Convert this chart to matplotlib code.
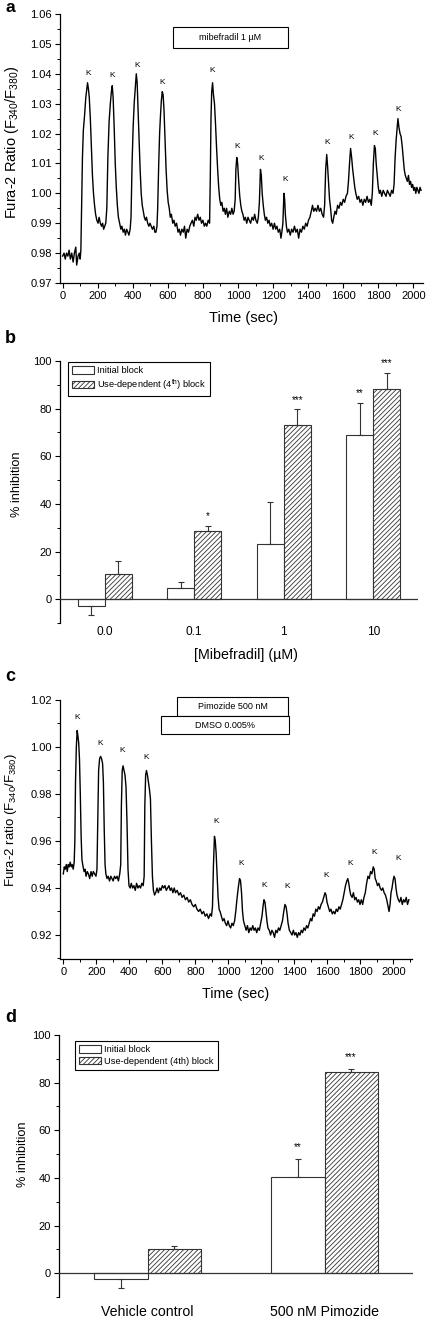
import numpy as np
import matplotlib
matplotlib.use('Agg')
import matplotlib.pyplot as plt
from matplotlib.patches import Rectangle, Patch
from matplotlib.ticker import MultipleLocator, FormatStrFormatter

plt.rcParams['font.family'] = ['Liberation Sans', 'DejaVu Sans']
plt.rcParams['mathtext.default'] = 'regular'
plt.rcParams['hatch.linewidth'] = 0.6

# ---------------------------------------------------------------------------
# Data
# ---------------------------------------------------------------------------

# panel a: Fura-2 ratio trace, mibefradil 1 uM (time s, ratio)
trace_a = [
    (0, 0.979), (8, 0.980), (15, 0.978), (22, 0.980), (30, 0.979), (37, 0.981),
    (44, 0.978), (52, 0.980), (60, 0.977), (67, 0.980), (75, 0.982), (80, 0.976),
    (88, 0.979), (95, 0.980), (100, 0.978), (104, 0.981),
    (108, 0.995), (113, 1.012), (118, 1.021), (125, 1.026), (132, 1.032), (138, 1.035),
    (142, 1.037), (147, 1.035), (152, 1.032), (158, 1.025), (164, 1.015), (170, 1.006),
    (176, 1.000), (182, 0.996), (188, 0.993), (195, 0.991), (202, 0.990), (208, 0.992),
    (215, 0.990), (222, 0.989), (228, 0.990), (234, 0.988), (240, 0.989), (246, 0.990),
    (252, 0.995),
    (258, 1.012), (265, 1.024), (272, 1.030), (278, 1.034), (283, 1.036), (288, 1.032),
    (294, 1.022), (300, 1.010), (306, 1.002), (312, 0.996), (318, 0.992), (325, 0.990),
    (332, 0.988), (338, 0.989), (345, 0.987), (352, 0.988), (358, 0.986), (365, 0.988),
    (372, 0.987), (378, 0.986), (385, 0.988), (390, 0.992),
    (396, 1.010), (402, 1.022), (408, 1.030), (414, 1.035), (420, 1.040), (425, 1.037),
    (430, 1.028), (436, 1.018), (442, 1.008), (448, 1.000), (454, 0.996), (460, 0.994),
    (466, 0.992), (472, 0.991), (478, 0.992), (485, 0.990), (492, 0.989), (498, 0.990),
    (505, 0.989), (512, 0.988), (520, 0.989), (526, 0.987), (532, 0.987), (538, 0.989),
    (542, 0.995),
    (548, 1.010), (553, 1.020), (558, 1.026), (563, 1.031), (568, 1.034), (573, 1.033),
    (578, 1.028), (584, 1.018), (590, 1.008), (596, 1.001), (602, 0.997), (608, 0.995),
    (614, 0.992), (620, 0.993), (628, 0.990), (635, 0.991), (642, 0.989), (650, 0.990),
    (658, 0.987), (665, 0.988), (672, 0.986), (680, 0.988), (688, 0.987), (695, 0.989),
    (702, 0.985), (710, 0.988), (718, 0.987), (725, 0.989), (732, 0.990), (740, 0.991),
    (748, 0.989), (755, 0.992), (762, 0.991), (770, 0.993), (778, 0.991), (785, 0.992),
    (792, 0.990), (800, 0.991), (808, 0.989), (815, 0.990), (822, 0.989), (830, 0.991),
    (838, 0.990),
    (842, 1.005), (846, 1.025), (850, 1.034), (855, 1.037), (860, 1.033), (866, 1.030),
    (872, 1.023), (878, 1.015), (884, 1.008), (890, 1.002), (896, 0.998), (902, 0.996),
    (908, 0.997), (915, 0.994), (922, 0.995), (928, 0.993), (935, 0.995), (942, 0.992),
    (950, 0.994), (958, 0.993), (965, 0.995), (972, 0.993), (978, 0.994), (984, 0.998),
    (988, 1.008), (993, 1.012), (998, 1.010), (1004, 1.004), (1010, 0.999), (1016, 0.996),
    (1022, 0.994), (1028, 0.993), (1035, 0.991), (1042, 0.992), (1050, 0.990), (1057, 0.992),
    (1064, 0.991), (1072, 0.990), (1080, 0.992), (1088, 0.991), (1095, 0.993), (1102, 0.991),
    (1110, 0.990), (1116, 0.992), (1122, 0.997),
    (1128, 1.008), (1133, 1.006), (1138, 1.000), (1144, 0.996), (1150, 0.993), (1156, 0.991),
    (1163, 0.992), (1170, 0.990), (1177, 0.991), (1184, 0.989), (1192, 0.990), (1200, 0.988),
    (1208, 0.990), (1215, 0.988), (1222, 0.989), (1230, 0.987), (1238, 0.988), (1245, 0.985),
    (1250, 0.987), (1256, 0.990),
    (1262, 1.000), (1266, 0.998), (1270, 0.993), (1276, 0.989), (1282, 0.987), (1290, 0.988),
    (1298, 0.986), (1306, 0.988), (1314, 0.987), (1322, 0.989), (1330, 0.987), (1338, 0.988),
    (1346, 0.985), (1354, 0.988), (1362, 0.987), (1370, 0.989), (1378, 0.988), (1386, 0.990),
    (1394, 0.989), (1402, 0.991), (1410, 0.992), (1418, 0.994), (1425, 0.996), (1432, 0.994),
    (1440, 0.995), (1448, 0.994), (1456, 0.996), (1464, 0.994), (1472, 0.995), (1480, 0.993),
    (1488, 0.992), (1494, 0.996),
    (1500, 1.008), (1506, 1.013), (1511, 1.009), (1516, 1.004), (1522, 0.998), (1528, 0.995),
    (1534, 0.991), (1540, 0.990), (1546, 0.992), (1553, 0.994), (1560, 0.993), (1568, 0.996),
    (1576, 0.995), (1584, 0.997), (1592, 0.996), (1600, 0.998), (1608, 0.997), (1616, 0.999),
    (1624, 1.000), (1630, 1.004),
    (1636, 1.010), (1642, 1.015), (1648, 1.012), (1654, 1.008), (1660, 1.005), (1666, 1.002),
    (1672, 1.000), (1680, 0.998), (1688, 0.999), (1696, 0.997), (1704, 0.998), (1712, 0.996),
    (1720, 0.998), (1728, 0.997), (1736, 0.999), (1744, 0.997), (1752, 0.998), (1760, 0.996),
    (1766, 1.000),
    (1772, 1.010), (1778, 1.016), (1783, 1.015), (1788, 1.010), (1794, 1.006), (1800, 1.002),
    (1806, 1.000), (1812, 1.001), (1820, 0.999), (1828, 1.001), (1836, 1.000), (1844, 0.999),
    (1852, 1.001), (1860, 1.000), (1868, 0.999), (1876, 1.001), (1884, 1.000), (1890, 1.003),
    (1896, 1.012), (1902, 1.018), (1908, 1.022), (1912, 1.025), (1918, 1.022), (1924, 1.020),
    (1930, 1.019), (1936, 1.016), (1942, 1.012), (1948, 1.008), (1954, 1.006), (1960, 1.005),
    (1966, 1.004), (1972, 1.006), (1978, 1.003), (1984, 1.004), (1990, 1.002), (1996, 1.003),
    (2002, 1.001), (2008, 1.002), (2014, 1.000), (2020, 1.002), (2026, 1.001), (2032, 1.000),
    (2038, 1.002), (2044, 1.001),
]
# "K" (KCl pulse) markers for panel a (time, height)
k_marks_a = [(143, 1.039), (283, 1.0384), (424, 1.0417), (566, 1.036), (852, 1.040),
             (994, 1.0146), (1131, 1.0104), (1268, 1.0034), (1506, 1.0159),
             (1646, 1.0176), (1781, 1.019), (1916, 1.0268)]

# panel b: % inhibition vs mibefradil concentration
conc_labels = ['0.0', '0.1', '1', '10']
initial_b = [-2.8, 4.9, 23.3, 69.0]
initial_b_err = [3.8, 2.2, 17.3, 13.4]
use_b = [10.6, 28.5, 73.2, 88.4]
use_b_err = [5.3, 2.4, 6.5, 6.7]
stars_initial_b = ['', '', '', '**']
stars_use_b = ['', '*', '***', '***']

# panel c: Fura-2 ratio trace, pimozide 500 nM (time s, ratio)
trace_c = [
    (0, 0.946), (6, 0.949), (12, 0.948), (18, 0.950), (24, 0.947), (30, 0.950),
    (36, 0.949), (42, 0.951), (48, 0.949), (54, 0.950), (60, 0.948), (66, 0.951),
    (70, 0.960), (74, 0.985), (79, 1.000), (84, 1.007), (88, 1.005), (93, 1.002),
    (98, 0.995), (103, 0.980), (108, 0.962), (113, 0.952), (120, 0.949), (126, 0.947),
    (132, 0.948), (138, 0.945), (145, 0.947), (152, 0.946), (160, 0.944), (168, 0.947),
    (175, 0.945), (182, 0.947), (190, 0.946), (198, 0.945), (204, 0.948),
    (209, 0.970), (214, 0.990), (220, 0.995), (226, 0.996), (232, 0.995), (238, 0.993),
    (243, 0.985), (248, 0.965), (253, 0.950), (258, 0.946), (265, 0.944), (272, 0.945),
    (280, 0.943), (288, 0.945), (295, 0.944), (302, 0.943), (310, 0.945), (318, 0.944),
    (326, 0.945), (334, 0.943), (342, 0.946), (348, 0.950),
    (352, 0.975), (357, 0.990), (362, 0.992), (368, 0.990), (374, 0.988), (380, 0.983),
    (386, 0.968), (392, 0.948), (398, 0.941), (405, 0.940), (412, 0.942), (420, 0.940),
    (428, 0.941), (436, 0.939), (444, 0.942), (452, 0.940), (460, 0.941), (468, 0.940),
    (476, 0.942), (484, 0.941), (490, 0.945),
    (494, 0.975), (499, 0.988), (504, 0.990), (510, 0.988), (516, 0.985), (522, 0.982),
    (528, 0.978), (534, 0.960), (540, 0.945), (546, 0.939), (553, 0.937), (560, 0.938),
    (568, 0.940), (576, 0.938), (584, 0.940), (592, 0.939), (600, 0.941), (608, 0.940),
    (616, 0.941), (624, 0.939), (632, 0.940), (640, 0.941), (648, 0.939), (656, 0.940),
    (664, 0.938), (672, 0.940), (680, 0.938), (690, 0.939), (700, 0.937), (710, 0.938),
    (720, 0.936), (730, 0.937), (740, 0.935), (750, 0.936), (760, 0.934), (770, 0.935),
    (780, 0.933), (790, 0.932), (800, 0.933), (810, 0.931), (820, 0.930), (830, 0.931),
    (840, 0.929), (850, 0.930), (860, 0.928), (870, 0.929), (880, 0.927), (890, 0.929),
    (898, 0.928), (904, 0.932),
    (910, 0.950), (916, 0.962), (921, 0.960), (926, 0.955), (932, 0.945), (938, 0.936),
    (944, 0.931), (950, 0.930), (958, 0.928), (966, 0.926), (974, 0.927), (982, 0.925),
    (990, 0.924), (998, 0.926), (1006, 0.924), (1014, 0.923), (1022, 0.925), (1030, 0.924),
    (1038, 0.926), (1045, 0.930),
    (1052, 0.935), (1060, 0.940), (1068, 0.944), (1074, 0.943), (1080, 0.938), (1086, 0.930),
    (1092, 0.926), (1100, 0.924), (1108, 0.922), (1116, 0.924), (1124, 0.921), (1132, 0.923),
    (1140, 0.922), (1148, 0.924), (1156, 0.922), (1164, 0.923), (1172, 0.921), (1180, 0.923),
    (1188, 0.922), (1196, 0.925), (1204, 0.928),
    (1210, 0.932), (1216, 0.935), (1222, 0.934), (1228, 0.930), (1234, 0.926), (1240, 0.923),
    (1248, 0.922), (1256, 0.920), (1264, 0.922), (1272, 0.921), (1280, 0.919), (1288, 0.922),
    (1296, 0.921), (1304, 0.923), (1312, 0.922), (1320, 0.924), (1328, 0.926),
    (1336, 0.930), (1343, 0.933), (1350, 0.932), (1356, 0.929), (1362, 0.925), (1370, 0.922),
    (1378, 0.921), (1386, 0.920), (1394, 0.922), (1402, 0.920), (1410, 0.921), (1418, 0.919),
    (1426, 0.921), (1434, 0.920), (1442, 0.922), (1450, 0.921), (1458, 0.923), (1466, 0.922),
    (1474, 0.924), (1482, 0.923), (1490, 0.925), (1498, 0.927), (1506, 0.926), (1514, 0.929),
    (1522, 0.928), (1530, 0.931), (1538, 0.930), (1546, 0.932), (1554, 0.931), (1562, 0.933),
    (1570, 0.934),
    (1578, 0.936), (1586, 0.938), (1592, 0.937), (1598, 0.934), (1606, 0.932), (1614, 0.930),
    (1622, 0.931), (1630, 0.929), (1638, 0.930), (1646, 0.929), (1654, 0.931), (1662, 0.930),
    (1670, 0.932), (1678, 0.931), (1686, 0.933), (1694, 0.935),
    (1702, 0.938), (1710, 0.941), (1718, 0.943), (1724, 0.944), (1730, 0.942), (1736, 0.939),
    (1742, 0.937), (1750, 0.936), (1758, 0.938), (1766, 0.935), (1774, 0.936), (1782, 0.934),
    (1790, 0.935), (1798, 0.933), (1806, 0.935), (1814, 0.933), (1822, 0.936), (1830, 0.938),
    (1838, 0.942), (1846, 0.945), (1854, 0.944), (1862, 0.947), (1870, 0.946), (1878, 0.949),
    (1884, 0.948), (1890, 0.944), (1896, 0.943), (1904, 0.941), (1912, 0.942), (1920, 0.940),
    (1928, 0.939), (1936, 0.940), (1944, 0.938), (1952, 0.937), (1960, 0.935), (1968, 0.932),
    (1974, 0.930), (1980, 0.933),
    (1986, 0.938), (1992, 0.940), (1998, 0.943), (2004, 0.945), (2010, 0.944), (2016, 0.940),
    (2022, 0.937), (2030, 0.935), (2038, 0.934), (2046, 0.936), (2054, 0.933), (2062, 0.935),
    (2070, 0.934), (2078, 0.936), (2086, 0.933), (2094, 0.935),
]
k_marks_c = [(85, 1.011), (226, 1.000), (358, 0.997), (503, 0.994), (929, 0.967),
             (1077, 0.949), (1216, 0.9395), (1357, 0.939), (1592, 0.944),
             (1737, 0.949), (1885, 0.9537), (2030, 0.951)]

# panel d: % inhibition, vehicle vs pimozide
groups_d = ['Vehicle control', '500 nM Pimozide']
initial_d = [-2.5, 40.4]
initial_d_err = [3.8, 7.6]
use_d = [10.1, 84.6]
use_d_err = [1.5, 1.2]
stars_initial_d = ['', '**']
stars_use_d = ['', '***']

# ---------------------------------------------------------------------------
W, H = 428, 1318
fig = plt.figure(figsize=(W / 100, H / 100), dpi=100)
EDGE = '#333333'
HATCH = '///////'


def px_rect(left, right, top, bottom):
    return [left / W, 1 - bottom / H, (right - left) / W, (bottom - top) / H]


def style_axes(ax):
    ax.spines['top'].set_visible(False)
    ax.spines['right'].set_visible(False)
    for s in ('left', 'bottom'):
        ax.spines[s].set_linewidth(0.9)
    ax.tick_params(which='major', direction='out', length=3.5, width=0.8,
                   labelsize=8, pad=2.5)
    ax.tick_params(which='minor', direction='out', length=2, width=0.7)


def trace_panel(ax, trace, marks, xlim, ylim, ystep):
    t, r = np.array(trace).T
    ax.plot(t, r, color='black', lw=1.0)
    for kt, ky in marks:
        ax.text(kt, ky, 'K', ha='center', va='bottom', fontsize=6)
    ax.set_xlim(*xlim)
    ax.set_ylim(*ylim)
    ax.xaxis.set_major_locator(MultipleLocator(200))
    ax.xaxis.set_minor_locator(MultipleLocator(100))
    ax.yaxis.set_major_locator(MultipleLocator(ystep))
    ax.yaxis.set_minor_locator(MultipleLocator(ystep / 2))
    ax.yaxis.set_major_formatter(FormatStrFormatter('%.2f'))
    style_axes(ax)


def box_label(ax, x0, x1, y0, y1, text):
    ax.add_patch(Rectangle((x0, y0), x1 - x0, y1 - y0, transform=ax.transAxes,
                           facecolor='white', edgecolor='black', lw=0.8, clip_on=False))
    ax.text((x0 + x1) / 2, (y0 + y1) / 2, text, transform=ax.transAxes,
            ha='center', va='center', fontsize=6.5)


def bar_panel(ax, labels, init, init_err, use, use_err, s_init, s_use, star_gap,
              tick_size, tick_pad):
    x = np.arange(len(labels))
    w = 0.3
    ax.bar(x - w / 2, init, w, color='white', edgecolor=EDGE, lw=0.8, zorder=2)
    ax.bar(x + w / 2, use, w, color='white', edgecolor=EDGE, hatch=HATCH, lw=0.8, zorder=2)
    for xs, vals, errs, stars in ((x - w / 2, init, init_err, s_init),
                                  (x + w / 2, use, use_err, s_use)):
        vals = np.array(vals)
        errs = np.array(errs)
        lo = np.where(vals < 0, errs, 0)
        hi = np.where(vals < 0, 0, errs)
        ax.errorbar(xs, vals, yerr=[lo, hi], fmt='none', ecolor=EDGE,
                    elinewidth=0.8, capsize=2.5, capthick=0.8, zorder=3)
        for xi, v, e, s in zip(xs, vals, errs, stars):
            if s:
                ax.text(xi, v + e + star_gap, s, ha='center', va='center', fontsize=7)
    ax.axhline(0, color=EDGE, lw=0.9, zorder=4)
    ax.set_xlim(-0.5, len(labels) - 0.5)
    ax.set_ylim(-10, 100)
    ax.set_xticks(x)
    ax.set_xticklabels(labels)
    ax.yaxis.set_major_locator(MultipleLocator(20))
    ax.yaxis.set_minor_locator(MultipleLocator(10))
    style_axes(ax)
    ax.spines['bottom'].set_visible(False)
    ax.tick_params(axis='x', length=0, labelsize=tick_size, pad=tick_pad)


def bar_legend(ax, use_label, anchor):
    handles = [Patch(facecolor='white', edgecolor=EDGE, lw=0.8),
               Patch(facecolor='white', edgecolor=EDGE, hatch=HATCH, lw=0.8)]
    leg = ax.legend(handles, ['Initial block', use_label], loc='upper left',
                    bbox_to_anchor=anchor, borderaxespad=0, fontsize=6.7,
                    fancybox=False, framealpha=1, edgecolor='black',
                    handlelength=2.4, handleheight=0.8, handletextpad=0.3,
                    labelspacing=0.25, borderpad=0.45)
    leg.get_frame().set_linewidth(0.8)


# panel a
ax_a = fig.add_axes(px_rect(60, 423, 14, 283))
trace_panel(ax_a, trace_a, k_marks_a, (-15, 2055), (0.97, 1.06), 0.01)
box_label(ax_a, 0.311, 0.628, 0.874, 0.952, 'mibefradil 1 µM')

# panel b
ax_b = fig.add_axes(px_rect(60, 418, 361, 623))
bar_panel(ax_b, conc_labels, initial_b, initial_b_err, use_b, use_b_err,
          stars_initial_b, stars_use_b, 4, 8.6, 2)
bar_legend(ax_b, 'Use-dependent (4$^{th}$) block', (0.022, 0.996))

# panel c
ax_c = fig.add_axes(px_rect(60, 412, 700, 958.5))
trace_panel(ax_c, trace_c, k_marks_c, (-20, 2113), (0.91, 1.02), 0.02)
box_label(ax_c, 0.332, 0.648, 0.938, 1.012, 'Pimozide 500 nM')
box_label(ax_c, 0.287, 0.651, 0.868, 0.938, 'DMSO 0.005%')

# panel d
ax_d = fig.add_axes(px_rect(59, 413, 1035, 1297))
bar_panel(ax_d, groups_d, initial_d, initial_d_err, use_d, use_d_err,
          stars_initial_d, stars_use_d, 5, 10.2, 6)
bar_legend(ax_d, 'Use-dependent (4th) block', (0.045, 0.977))


# axis titles and panel letters placed in figure pixels
def ftext(x, y, s, **kw):
    fig.text(x / W, 1 - y / H, s, **kw)


ftext(12.5, 142, 'Fura-2 Ratio (F$_{340}$/F$_{380}$)', rotation=90,
      ha='center', va='center', fontsize=10.5)
ftext(243, 318, 'Time (sec)', ha='center', va='center', fontsize=10.5)
ftext(16.5, 484, '% inhibition', rotation=90, ha='center', va='center', fontsize=9.2)
ftext(246, 655, '[Mibefradil] (µM)', ha='center', va='center', fontsize=10.3)
ftext(11.5, 820, 'Fura-2 ratio (F$_{340}$/F$_{380}$)', rotation=90,
      ha='center', va='center', fontsize=9.5)
ftext(236, 994, 'Time (sec)', ha='center', va='center', fontsize=10.3)
ftext(22.5, 1154, '% inhibition', rotation=90, ha='center', va='center', fontsize=9.2)

ftext(5, 0.5, 'a', ha='left', va='top', fontsize=12.5, fontweight='bold')
for letter, base in (('b', 343), ('c', 681), ('d', 1022)):
    ftext(5, base, letter, ha='left', va='baseline', fontsize=13, fontweight='bold')

fig.savefig('out.png', dpi=100)
